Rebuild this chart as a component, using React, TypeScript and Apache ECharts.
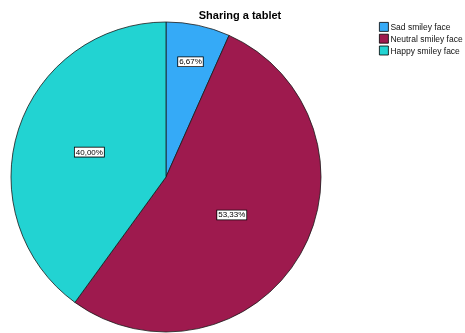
import React, { useEffect, useRef } from "react";
import * as echarts from "echarts";

const categories = ["Sad smiley face", "Neutral smiley face", "Happy smiley face"];
const counts = [1, 8, 6];
const colors = ["#35AAF7", "#9E1A4E", "#22D3D2"];
const titleText = "Sharing a tablet";

export default function App() {
  const ref = useRef<HTMLDivElement>(null);
  useEffect(() => {
    if (!ref.current) return;
    const chart = echarts.init(ref.current, undefined, { renderer: "svg" });
    const cx = 166;
    const cy = 177;
    const R = 155;
    const total = counts.reduce((a, b) => a + b, 0);
    const labelFactor = [0.76, 0.49, 0.52];
    const mids: number[] = [];
    let acc = 0;
    counts.forEach((v) => {
      mids.push(((acc + v / 2) / total) * Math.PI * 2);
      acc += v;
    });
    chart.setOption({
      animation: false,
      title: {
        text: titleText,
        left: 235,
        textAlign: "center",
        top: 4,
        textStyle: { fontSize: 11, fontWeight: "bold", color: "#000", fontFamily: "Liberation Sans, Arial, sans-serif" },
      },
      legend: {
        orient: "vertical",
        left: 379,
        top: 22,
        itemWidth: 9,
        itemHeight: 9,
        itemGap: 2,
        padding: 0,
        icon: "rect",
        data: categories,
        itemStyle: { borderColor: "#000", borderWidth: 0.8 },
        textStyle: { fontSize: 8.5, color: "#111", padding: [0, 0, 0, -3], fontFamily: "Liberation Sans, Arial, sans-serif" },
      },
      series: [
        {
          type: "pie",
          center: [cx, cy],
          radius: R,
          startAngle: 90,
          clockwise: true,
          data: categories.map((c, i) => ({ name: c, value: counts[i], itemStyle: { color: colors[i] } })),
          itemStyle: { borderColor: "#1a1a1a", borderWidth: 0.8 },
          label: {
            show: true,
            position: "inside",
            formatter: (p: any) => p.percent.toFixed(2).replace(".", ",") + "%",
            fontSize: 8,
            color: "#000",
            fontFamily: "Liberation Sans, Arial, sans-serif",
            backgroundColor: "#fff",
            borderColor: "#000",
            borderWidth: 0.8,
            padding: [1, 1, 0, 1],
          },
          labelLayout: (params: any) => {
            const i = params.dataIndex;
            const a = mids[i];
            const f = labelFactor[i];
            return {
              x: cx + f * R * Math.sin(a),
              y: cy - f * R * Math.cos(a),
              align: "center",
              verticalAlign: "middle",
            };
          },
          emphasis: { disabled: true },
        },
      ],
    });
    return () => chart.dispose();
  }, []);
  return <div ref={ref} style={{ position: "fixed", left: 0, top: 0, width: 465, height: 333 }} />;
}
